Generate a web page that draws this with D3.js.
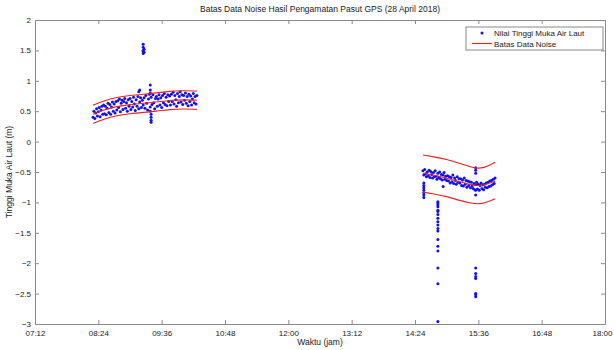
<!DOCTYPE html>
<html lang="id">
<head>
<meta charset="UTF-8">
<title>Batas Data Noise</title>
<script src="https://d3js.org/d3.v7.min.js"></script>
<style>
    html, body { margin: 0; padding: 0; background: #fff; }
    text { font-family: "Liberation Sans", Arial, sans-serif; fill: #1a1a1a; }
</style>
</head>
<body>
<div id="chart"></div>
<script>
// tick labels
const xTicks = ['07:12','08:24','09:36','10:48','12:00','13:12','14:24','15:36','16:48','18:00'];
const yTicks = [-3, -2.5, -2, -1.5, -1, -0.5, 0, 0.5, 1, 1.5, 2];

// sesi 1: satu data per menit mulai 08:18
const start1 = '08:18';
const tma1 = [
    0.40,0.50,0.38,0.47,0.54,0.42,0.49,0.56,0.41,0.52,0.58,0.45,
    0.60,0.46,0.58,0.44,0.55,0.63,0.48,0.61,0.45,0.57,0.65,0.50,0.62,0.47,0.66,
    0.52,0.67,0.56,0.70,0.49,0.63,0.68,0.53,0.66,0.71,0.55,0.64,0.50,0.69,0.58,
    0.71,0.53,0.66,0.57,0.73,0.62,0.51,0.69,0.58,0.74,0.54,0.65,0.72,0.56,0.68,
    0.60,0.72,0.55,0.76,0.63,0.52,0.70,0.78,0.57,0.73,0.61,0.77,0.64,0.54,0.71,
    0.74,0.58,0.70,0.77,0.60,0.72,0.56,0.76,0.64,0.79,0.61,0.73,0.59,0.77,0.66,
    0.75,0.60,0.78,0.66,0.81,0.62,0.76,0.69,0.58,0.79,0.64,0.74,0.82,0.65,0.77,
    0.61,0.76,0.68,0.80,0.63,0.74,0.59,0.78,0.66,0.75,0.60,0.70,0.79,0.64,0.74,0.62,0.76
];
// sesi 2: satu data per menit mulai 14:33
const start2 = '14:33';
const tma2 = [
    -0.48,-0.55,-0.46,-0.53,-0.58,-0.50,-0.56,-0.47,-0.59,-0.49,-0.54,-0.60,
    -0.51,-0.58,-0.48,-0.57,-0.62,-0.52,-0.59,-0.50,-0.61,-0.54,-0.63,-0.55,-0.51,-0.62,-0.57,
    -0.64,-0.56,-0.65,-0.58,-0.68,-0.59,-0.66,-0.55,-0.69,-0.60,-0.64,-0.70,-0.58,-0.67,-0.61,
    -0.68,-0.61,-0.72,-0.63,-0.73,-0.60,-0.70,-0.64,-0.75,-0.65,-0.72,-0.66,-0.76,-0.67,-0.73,
    -0.77,-0.69,-0.79,-0.71,-0.67,-0.78,-0.70,-0.80,-0.72,-0.68,-0.77,-0.71,-0.79,-0.70,-0.75,
    -0.68,-0.76,-0.67,-0.74,-0.65,-0.73,-0.64,-0.71,-0.62,-0.69,-0.60
];

// data noise (waktu, nilai)
const noiseTime = [
    '09:15','09:15','09:15','09:16','09:16','09:15','09:15',
    '09:10','09:11',
    '09:23','09:23','09:23','09:23','09:24','09:24','09:24','09:24',
    '14:34','14:34','14:34','14:34','14:34','14:34','14:34',
    '14:50','14:50','14:50','14:50','14:50','14:50','14:50','14:50','14:50',
    '14:50','14:50','14:50','14:50','14:50','14:50','14:50','14:50','14:50',
    '14:56',
    '15:33','15:33','15:33','15:33','15:33',
    '15:33','15:33','15:33','15:33','15:33','15:33','15:33'
];
const noiseVal = [
    1.45,1.48,1.50,1.52,1.47,1.55,1.60,
    0.82,0.85,
    0.93,0.85,0.80,0.50,0.45,0.40,0.35,0.32,
    -0.68,-0.72,-0.76,-0.80,-0.84,-0.88,-0.92,
    -0.99,-1.01,-1.04,-1.07,-1.13,-1.15,-1.20,-1.26,-1.32,
    -1.37,-1.43,-1.47,-1.61,-1.72,-1.80,-2.08,-2.34,-2.96,
    -0.74,
    -0.43,-0.47,-0.52,-0.80,-0.88,
    -2.08,-2.17,-2.22,-2.25,-2.50,-2.52,-2.55
];

// batas data noise
const batasTime1 = ['08:18','08:30','08:45','09:00','09:15','09:30','09:45','10:00','10:16'];
const tengah1 = [0.45, 0.52, 0.58, 0.61, 0.63, 0.65, 0.68, 0.69, 0.68];
const atas1   = [0.60, 0.67, 0.73, 0.76, 0.78, 0.80, 0.83, 0.84, 0.83];
const bawah1  = [0.30, 0.37, 0.43, 0.46, 0.48, 0.50, 0.53, 0.54, 0.53];
const batasTime2 = ['14:33','14:45','15:00','15:15','15:30','15:40','15:55'];
const tengah2 = [-0.52, -0.55, -0.60, -0.66, -0.72, -0.73, -0.65];
const atas2   = [-0.22, -0.25, -0.29, -0.36, -0.43, -0.45, -0.34];
const bawah2  = [-0.83, -0.86, -0.90, -0.97, -1.02, -1.03, -0.94];

const width = 614, height = 350;
const margin = {top: 20, right: 9, bottom: 26, left: 35};
const W = width - margin.left - margin.right;
const H = height - margin.top - margin.bottom;

const toMin = s => { const [h, m] = s.split(':'); return +h * 60 + +m; };

const x = d3.scaleLinear().domain([toMin('07:12'), toMin('18:00')]).range([0, W]);
const y = d3.scaleLinear().domain([-3, 2]).range([H, 0]);

const svg = d3.select('#chart').append('svg')
    .attr('width', width)
    .attr('height', height);

const g = svg.append('g').attr('transform', `translate(${margin.left},${margin.top})`);

// titik data
const pts = [];
tma1.forEach((v, i) => pts.push([toMin(start1) + i, v]));
tma2.forEach((v, i) => pts.push([toMin(start2) + i, v]));
noiseVal.forEach((v, i) => pts.push([toMin(noiseTime[i]), v]));

g.selectAll('circle.p').data(pts).enter().append('circle')
    .attr('class', 'p')
    .attr('cx', d => x(d[0]))
    .attr('cy', d => y(d[1]))
    .attr('r', 1.5)
    .attr('fill', '#1010f0');

// garis batas
const line = d3.line()
    .x(d => x(toMin(d[0])))
    .y(d => y(d[1]))
    .curve(d3.curveBasis);

[[batasTime1, [atas1, tengah1, bawah1]], [batasTime2, [atas2, tengah2, bawah2]]].forEach(([t, arrs]) => {
    arrs.forEach(a => {
        g.append('path')
            .datum(t.map((tt, i) => [tt, a[i]]))
            .attr('d', line)
            .attr('fill', 'none')
            .attr('stroke', '#f02020')
            .attr('stroke-width', 1.1);
    });
});

// sumbu (gaya matlab: kotak, tick ke dalam)
const axisColor = '#8a8a8a';
const xB = g.append('g').attr('transform', `translate(0,${H})`)
    .call(d3.axisBottom(x).tickValues(xTicks.map(toMin)).tickSize(-4).tickPadding(6).tickFormat((d, i) => xTicks[i]));
const xT = g.append('g')
    .call(d3.axisTop(x).tickValues(xTicks.map(toMin)).tickSize(-4).tickFormat(''));
const yL = g.append('g')
    .call(d3.axisLeft(y).tickValues(yTicks).tickSize(-4).tickPadding(4).tickFormat(d3.format('')));
const yR = g.append('g').attr('transform', `translate(${W},0)`)
    .call(d3.axisRight(y).tickValues(yTicks).tickSize(-4).tickFormat(''));

[xB, xT, yL, yR].forEach(a => {
    a.select('.domain').attr('stroke', axisColor);
    a.selectAll('.tick line').attr('stroke', axisColor);
    a.selectAll('text').attr('font-size', 8).attr('fill', '#1a1a1a')
        .style('font-family', '"Liberation Sans", Arial, sans-serif');
});
// label terakhir digeser sedikit agar tidak terpotong
xB.selectAll('.tick text').filter((d, i) => i === xTicks.length - 1).attr('dx', -3);

// judul dan label
svg.append('text')
    .attr('x', margin.left + W / 2).attr('y', 12)
    .attr('text-anchor', 'middle').attr('font-size', 8.5)
    .text('Batas Data Noise Hasil Pengamatan Pasut GPS (28 April 2018)');

svg.append('text')
    .attr('x', margin.left + W / 2).attr('y', 345)
    .attr('text-anchor', 'middle').attr('font-size', 8.5)
    .text('Waktu (jam)');

svg.append('text')
    .attr('transform', `translate(12,${margin.top + H / 2}) rotate(-90)`)
    .attr('text-anchor', 'middle').attr('font-size', 8.5)
    .text('Tinggi Muka Air Laut (m)');

// legenda
const lg = svg.append('g').attr('transform', 'translate(466,27)');
lg.append('rect').attr('width', 137).attr('height', 23)
    .attr('fill', '#fff').attr('stroke', axisColor);
lg.append('circle').attr('cx', 16).attr('cy', 6).attr('r', 1.5).attr('fill', '#1010f0');
lg.append('text').attr('x', 28).attr('y', 9).attr('font-size', 8).text('Nilai Tinggi Muka Air Laut');
lg.append('line').attr('x1', 6).attr('x2', 26).attr('y1', 16.5).attr('y2', 16.5)
    .attr('stroke', '#f02020').attr('stroke-width', 1.1);
lg.append('text').attr('x', 28).attr('y', 19.5).attr('font-size', 8).text('Batas Data Noise');
</script>
</body>
</html>
